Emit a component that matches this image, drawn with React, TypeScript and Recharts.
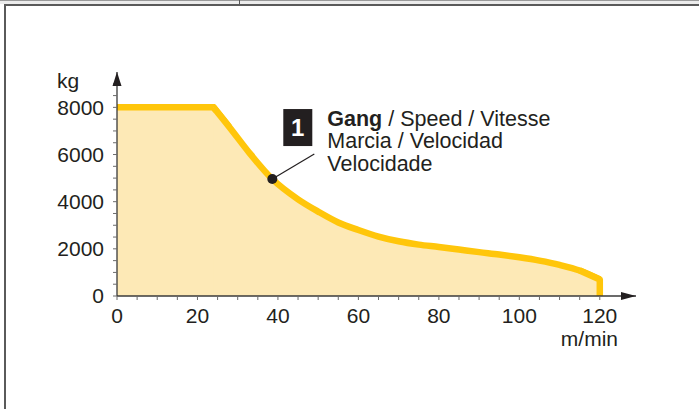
import React from "react";
import { ComposedChart, Area, XAxis, YAxis, ReferenceDot } from "recharts";

// load limit (kg) at each travel speed (m/min)
const speeds = [0, 24, 28, 33, 38.6, 45, 50, 55, 60, 65, 70, 75, 80, 85, 90, 95, 100, 105, 110, 115, 120];
const loads = [8000, 8000, 7150, 6050, 4960, 4100, 3580, 3120, 2800, 2520, 2320, 2180, 2080, 1970, 1860, 1760, 1640, 1500, 1320, 1080, 700];
const kneeSpeed = 24;
const maxSpeed = 120;
const markerIndex = 4;

const xTicks = [0, 5, 10, 15, 20, 25, 30, 35, 40, 45, 50, 55, 60, 65, 70, 75, 80, 85, 90, 95, 100, 105, 110, 115, 120];
const xLabels = [0, 20, 40, 60, 80, 100, 120];
const yTicks = [0, 500, 1000, 1500, 2000, 2500, 3000, 3500, 4000, 4500, 5000, 5500, 6000, 6500, 7000, 7500, 8000, 8500, 9000];
const yLabels = [0, 2000, 4000, 6000, 8000];

const xUnit = "m/min";
const yUnit = "kg";
const calloutNumber = "1";
const calloutBold = "Gang";
const calloutLines = [" / Speed / Vitesse", "Marcia / Velocidad", "Velocidade"];

const FONT = '"Liberation Sans", Arial, Helvetica, sans-serif';
const TEXT = "#231f20";
const YELLOW = "#ffc60b";
const FILL = "#fde9b6";
const AXIS = "#3a3a3a";

const rows: any[] = speeds.map((v, i) => ({
  v,
  knee: v <= speeds[2] ? loads[i] : undefined,
  curve: v >= kneeSpeed ? loads[i] : undefined,
  drop: v >= speeds[speeds.length - 2] ? loads[i] : undefined,
}));
rows.push({ v: maxSpeed, drop: 0 });

const Callout = (props: any) => {
  const { cx, cy } = props;
  return (
    <g>
      <line x1={cx} y1={cy} x2={cx + 42} y2={cy - 25} stroke={TEXT} strokeWidth={1.2} />
      <circle cx={cx} cy={cy} r={5} fill={TEXT} />
      <rect x={cx + 11} y={cy - 70} width={29} height={37} fill={TEXT} />
      <text x={cx + 25.5} y={cy - 43.5} textAnchor="middle" fill="#fff" fontSize={24} fontWeight="bold" fontFamily={FONT}>
        {calloutNumber}
      </text>
      <text fill={TEXT} fontSize={21.5} fontFamily={FONT}>
        <tspan x={cx + 55} y={cy - 53.5} fontWeight="bold">{calloutBold}</tspan>
        <tspan>{calloutLines[0]}</tspan>
        <tspan x={cx + 55} y={cy - 31}>{calloutLines[1]}</tspan>
        <tspan x={cx + 55} y={cy - 8.5}>{calloutLines[2]}</tspan>
      </text>
    </g>
  );
};

const ArrowUp = (props: any) => (
  <path d={`M${props.cx},${props.cy} l4.5,14 h-9 z`} fill={TEXT} />
);
const ArrowRight = (props: any) => (
  <path d={`M${props.cx},${props.cy} l-15,-4 v8 z`} fill={TEXT} />
);

const KgLabel = (props: any) => {
  const vb = props.viewBox || { x: 57, y: 72 };
  return (
    <text x={vb.x} y={vb.y + 16} fill={TEXT} fontSize={21} fontFamily={FONT}>
      {yUnit}
    </text>
  );
};

const SpeedLabel = (props: any) => {
  const vb = props.viewBox || { x: 117, y: 296, width: 519 };
  return (
    <text x={vb.x + vb.width - 18} y={vb.y + 50} textAnchor="end" fill={TEXT} fontSize={21} fontFamily={FONT}>
      {xUnit}
    </text>
  );
};

export default function App() {
  const tickStyle = { fill: TEXT, fontSize: 21, fontFamily: FONT };
  return (
    <div style={{ position: "absolute", left: 0, top: 0, width: 699, height: 409, background: "#fff", overflow: "hidden", fontFamily: FONT }}>
      {/* table frame around the figure */}
      <div style={{ position: "absolute", left: 0, top: 0, width: 699, height: 4, background: "#ececec", borderTop: "1px solid #9a9a9a", boxSizing: "border-box" }} />
      <div style={{ position: "absolute", left: 239, top: 0, width: 1, height: 5, background: "#555" }} />
      <div style={{ position: "absolute", left: 4, top: 4, width: 695, height: 2, background: "#5a5a5a" }} />
      <div style={{ position: "absolute", left: 4, top: 4, width: 2, height: 405, background: "#5a5a5a" }} />

      <div style={{ position: "absolute", left: 0, top: 0 }}>
        <ComposedChart width={699} height={409} data={rows} margin={{ top: 72, right: 63, bottom: 73, left: 57 }}>
          <XAxis
            dataKey="v"
            type="number"
            domain={[0, 129]}
            allowDataOverflow
            ticks={xTicks}
            interval={0}
            tickFormatter={(v: number) => (xLabels.includes(v) ? String(v) : "")}
            tick={tickStyle}
            tickSize={4}
            tickMargin={8}
            tickLine={{ stroke: "#6b6b6b" }}
            axisLine={{ stroke: AXIS, strokeWidth: 1.3 }}
            height={40}
            label={{ content: SpeedLabel }}
          />
          <YAxis
            type="number"
            domain={[0, 9500]}
            allowDataOverflow
            ticks={yTicks}
            interval={0}
            tickFormatter={(v: number) => (yLabels.includes(v) ? String(v) : "")}
            tick={tickStyle}
            tickSize={4}
            tickMargin={9}
            tickLine={{ stroke: "#6b6b6b" }}
            axisLine={{ stroke: AXIS, strokeWidth: 1.3 }}
            width={60}
            label={{ content: KgLabel }}
          />
          <Area type="linear" dataKey="knee" stroke={YELLOW} strokeWidth={6.5} fill={FILL} fillOpacity={1} isAnimationActive={false} />
          <Area type="monotoneX" dataKey="curve" stroke={YELLOW} strokeWidth={6.5} fill={FILL} fillOpacity={1} isAnimationActive={false} />
          <Area type="linear" dataKey="drop" stroke={YELLOW} strokeWidth={6.5} strokeLinejoin="round" fill={FILL} fillOpacity={1} isAnimationActive={false} />
          <ReferenceDot x={0} y={9500} r={0} shape={ArrowUp} ifOverflow="visible" />
          <ReferenceDot x={129} y={0} r={0} shape={ArrowRight} ifOverflow="visible" />
          <ReferenceDot x={speeds[markerIndex]} y={loads[markerIndex]} r={5} shape={Callout} ifOverflow="visible" />
        </ComposedChart>
      </div>
    </div>
  );
}
